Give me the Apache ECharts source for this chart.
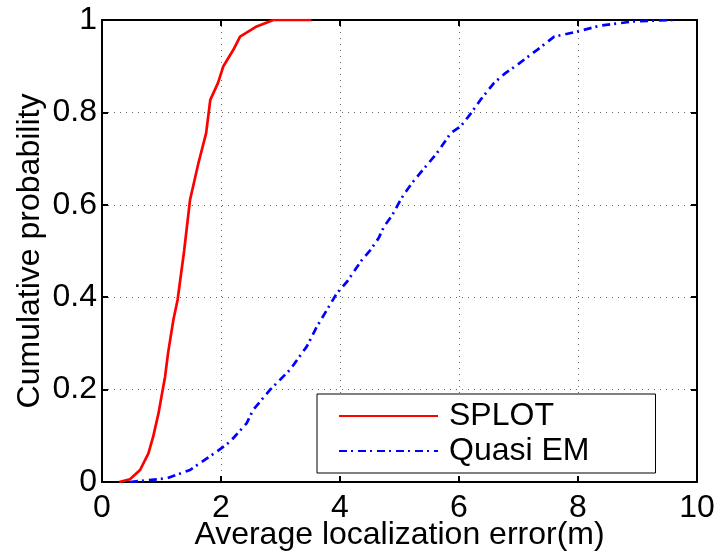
<!DOCTYPE html>
<html>
<head>
<meta charset="utf-8">
<script src="https://cdn.jsdelivr.net/npm/echarts@6/dist/echarts.min.js"></script>
<style>html,body{margin:0;padding:0;background:#fff;}#c{width:717px;height:554px;}</style>
</head>
<body>
<div id="c"></div>
<script>
const xTicks = [0, 2, 4, 6, 8, 10];
const yTicks = [0, 0.2, 0.4, 0.6, 0.8, 1];
const seriesNames = ['SPLOT', 'Quasi EM'];
const splotX = [0.29,0.47,0.64,0.78,0.86,0.95,1.0,1.06,1.11,1.2,1.27,1.38,1.48,1.62,1.75,1.82,1.95,2.04,2.21,2.32,2.6,2.88,3.52];
const splotY = [0,0.006,0.026,0.062,0.098,0.149,0.185,0.228,0.279,0.351,0.394,0.5,0.611,0.69,0.755,0.827,0.864,0.90,0.936,0.964,0.986,1.0,1.0];
const quasiX = [0.47,1.09,1.48,1.93,2.15,2.43,2.54,2.82,3.16,3.44,3.61,3.95,4.12,4.37,4.51,4.65,4.74,4.88,4.99,5.07,5.21,5.35,5.63,5.86,6.03,6.2,6.36,6.59,6.78,6.98,7.32,7.6,7.99,8.38,8.94,9.59];
const quasiY = [0,0.008,0.026,0.066,0.087,0.127,0.156,0.199,0.243,0.293,0.336,0.409,0.434,0.481,0.502,0.528,0.553,0.578,0.604,0.622,0.647,0.669,0.712,0.755,0.77,0.798,0.827,0.864,0.885,0.903,0.936,0.964,0.975,0.988,0.997,1.0];

const FONT = '"Liberation Sans", Arial, sans-serif';
const FS = 32;
const pairs = (xs, ys) => xs.map((x, i) => [x, ys[i]]);

const chart = echarts.init(document.getElementById('c'), null, {renderer: 'canvas'});
const baseAxisLine = {show: true, onZero: false, lineStyle: {color: '#000', width: 2}};
const tick = {show: true, inside: true, length: 6, lineStyle: {color: '#000', width: 2}};
chart.setOption({
  animation: false,
  backgroundColor: '#fff',
  textStyle: {fontFamily: FONT},
  grid: {left: 102, right: 20, top: 20, bottom: 72, containLabel: false, outerBoundsMode: 'none'},
  legend: {
    data: seriesNames,
    orient: 'vertical',
    left: 317, top: 394,
    backgroundColor: '#fff',
    borderColor: '#000', borderWidth: 1,
    padding: [6, 66, 6, 21],
    itemWidth: 99, itemHeight: 14, itemGap: 3,
    itemStyle: {opacity: 0},
    textStyle: {fontFamily: FONT, fontSize: FS, color: '#000', padding: [0, 0, 0, 6]}
  },
  xAxis: [{
    type: 'value', min: xTicks[0], max: xTicks[xTicks.length - 1], interval: 2,
    position: 'bottom',
    name: 'Average localization error(m)', nameLocation: 'middle', nameGap: 53,
    nameMoveOverlap: false,
    nameTextStyle: {fontFamily: FONT, fontSize: FS, color: '#000', verticalAlign: 'middle'},
    axisLine: baseAxisLine, axisTick: tick,
    axisLabel: {fontFamily: FONT, fontSize: FS, color: '#000', margin: 10},
    splitLine: {show: true, lineStyle: {color: '#666', width: 1, type: [1, 5]}}
  }, {
    type: 'value', min: xTicks[0], max: xTicks[xTicks.length - 1], interval: 2,
    position: 'top',
    axisLine: baseAxisLine, axisTick: tick, axisLabel: {show: false}, splitLine: {show: false}
  }],
  yAxis: [{
    type: 'value', min: yTicks[0], max: yTicks[yTicks.length - 1], interval: 0.2,
    position: 'left',
    name: 'Cumulative probability', nameLocation: 'middle', nameGap: 56,
    nameMoveOverlap: false,
    nameTextStyle: {fontFamily: FONT, fontSize: FS, color: '#000'},
    axisLine: baseAxisLine, axisTick: tick,
    axisLabel: {fontFamily: FONT, fontSize: FS, color: '#000', margin: 5},
    splitLine: {show: true, lineStyle: {color: '#666', width: 1, type: [1, 5]}}
  }, {
    type: 'value', min: yTicks[0], max: yTicks[yTicks.length - 1], interval: 0.2,
    position: 'right',
    axisLine: baseAxisLine, axisTick: tick, axisLabel: {show: false}, splitLine: {show: false}
  }],
  series: [{
    name: seriesNames[0], type: 'line', data: pairs(splotX, splotY),
    showSymbol: false, symbol: 'none',
    lineStyle: {color: '#ff0000', width: 2.7},
    itemStyle: {color: '#ff0000'}
  }, {
    name: seriesNames[1], type: 'line', data: pairs(quasiX, quasiY),
    showSymbol: false, symbol: 'none',
    lineStyle: {color: '#0000ff', width: 2.7, type: [8, 4, 2, 5]},
    itemStyle: {color: '#0000ff'}
  }]
});
</script>
</body>
</html>
